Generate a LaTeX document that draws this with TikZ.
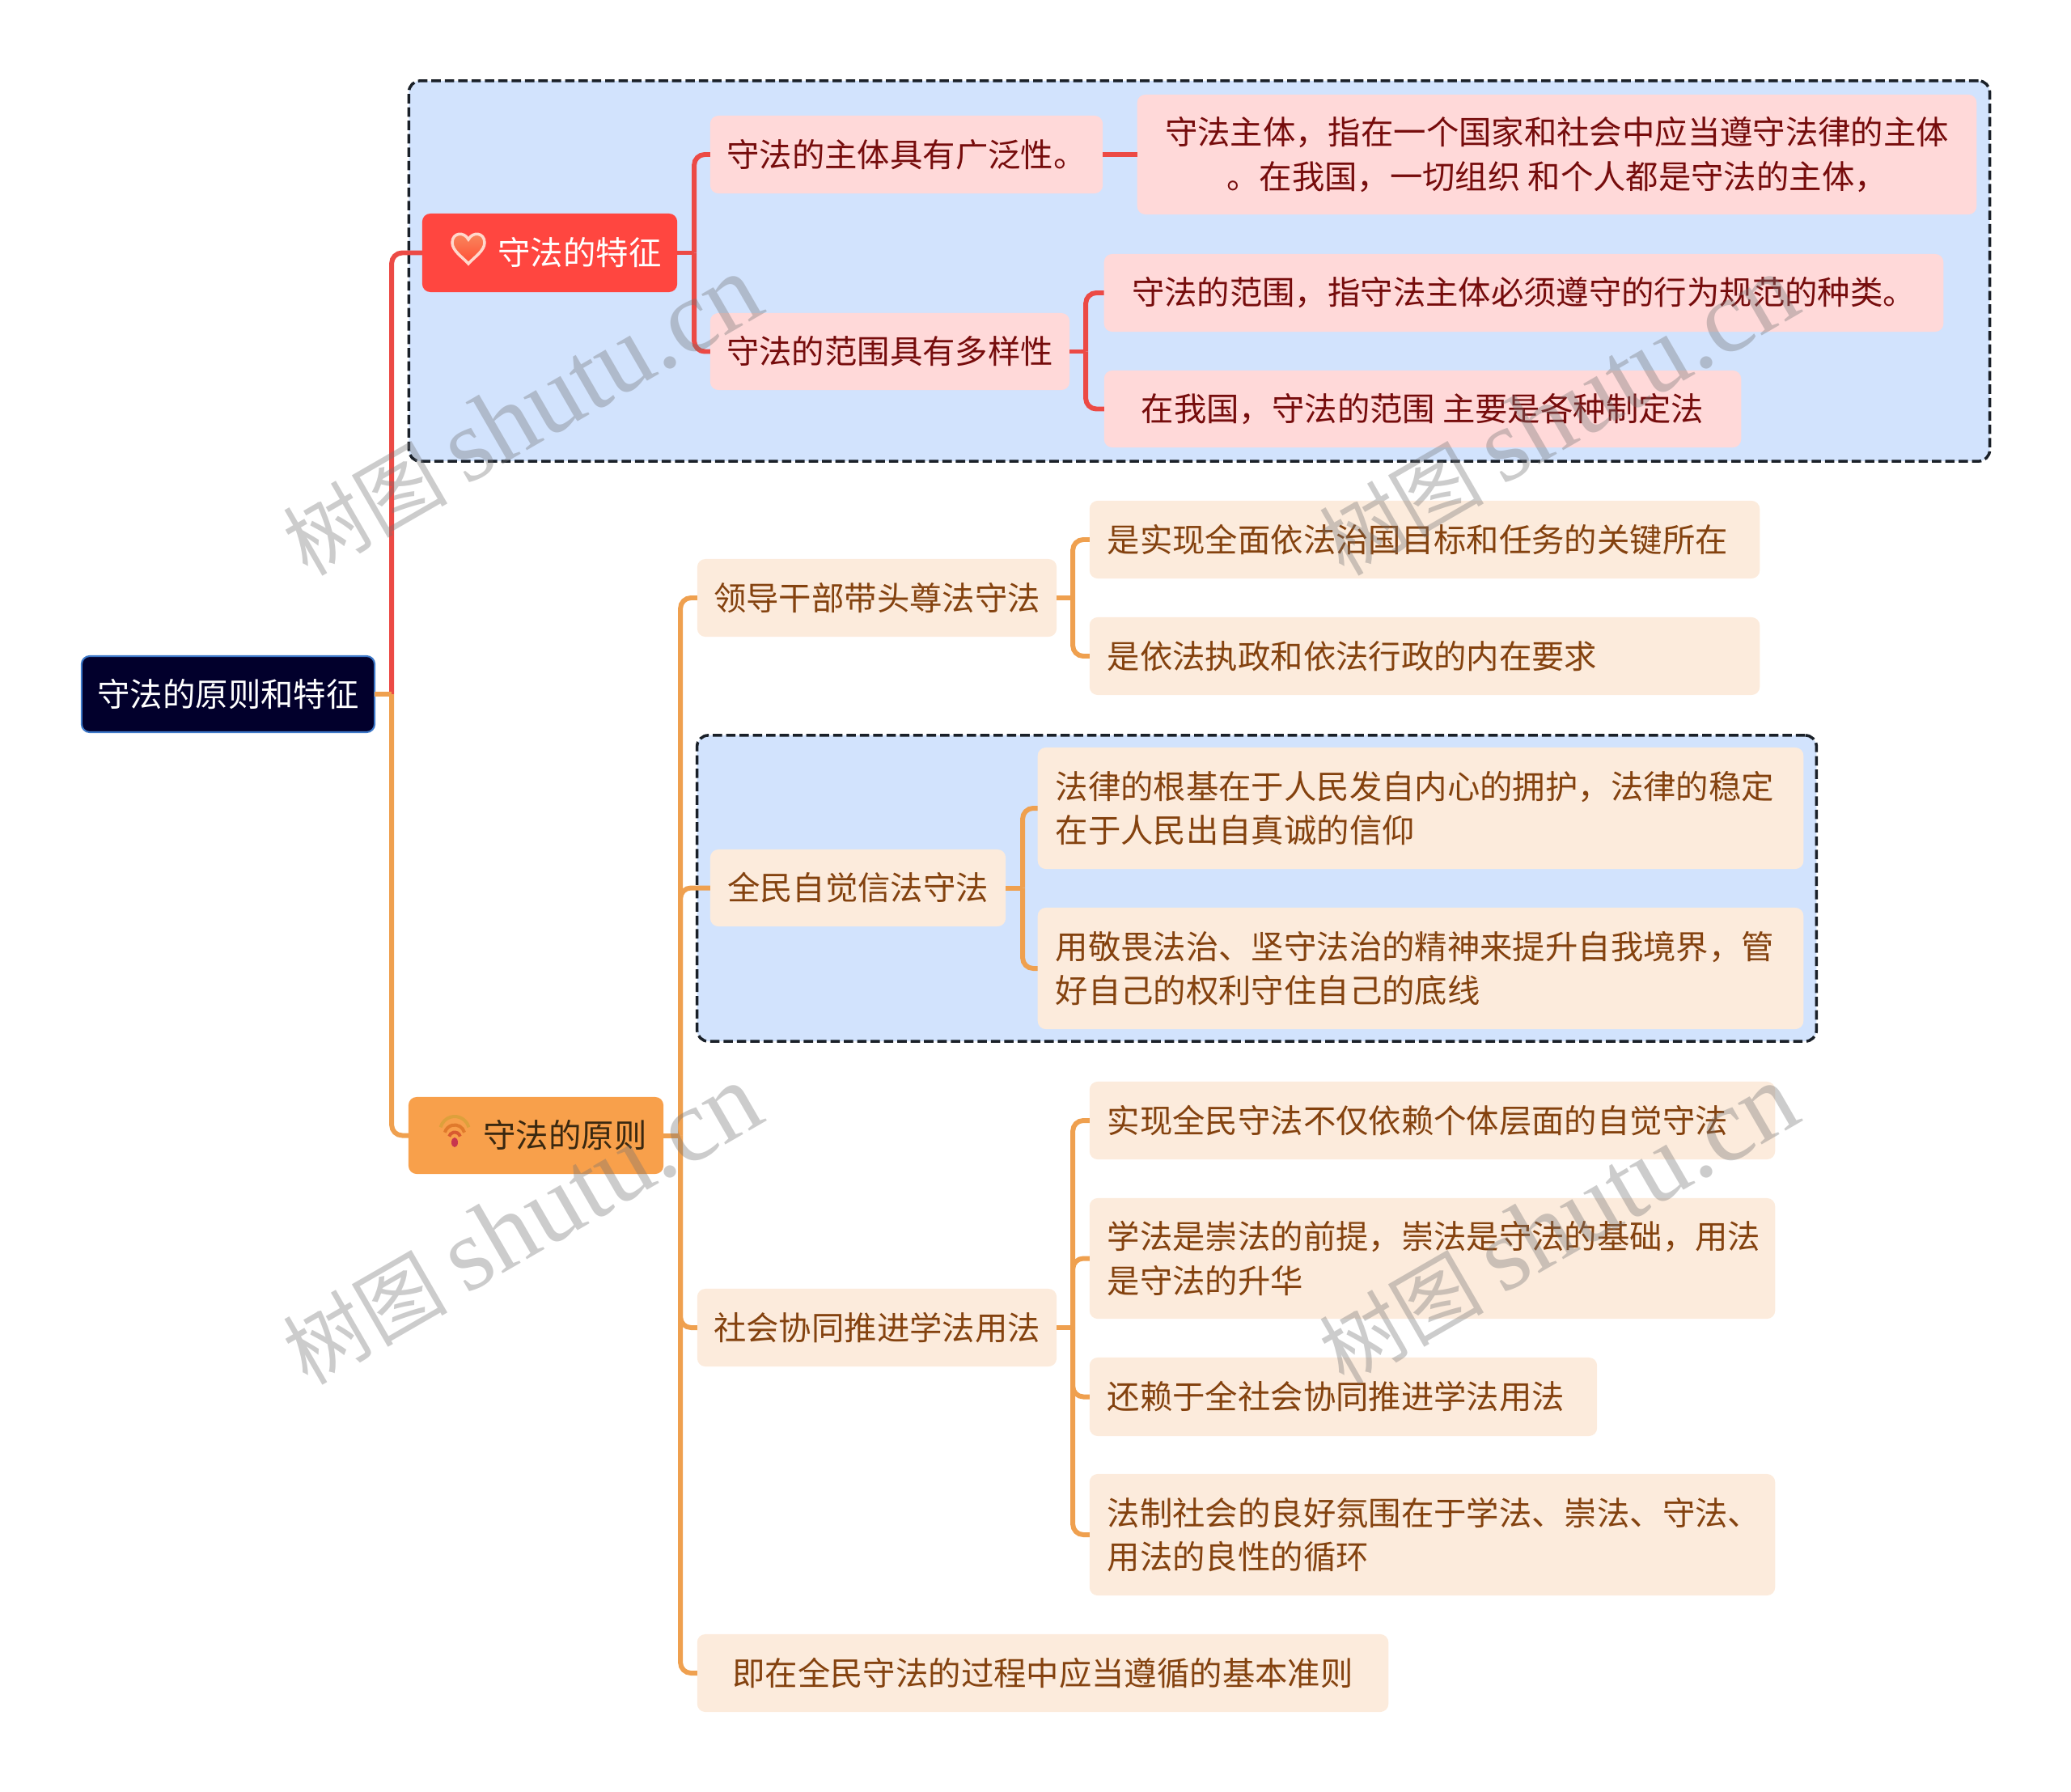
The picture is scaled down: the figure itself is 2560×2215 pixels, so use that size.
\documentclass[tikz,border=0pt]{standalone}
\usepackage{fontspec}
\setmainfont{Noto Sans CJK SC}
\newfontfamily\wmserif{Liberation Serif}
\usepackage{xcolor}
\definecolor{rootfill}{HTML}{02002C}
\definecolor{rootline}{HTML}{3D78C8}
\definecolor{redmain}{HTML}{FF4640}
\definecolor{redlink}{HTML}{EC4A45}
\definecolor{redsoft}{HTML}{FFD9D9}
\definecolor{redtext}{HTML}{760C0C}
\definecolor{orangemain}{HTML}{F8A04B}
\definecolor{orangelink}{HTML}{EFA04F}
\definecolor{orangesoft}{HTML}{FCEBDC}
\definecolor{orangetext}{HTML}{84420F}
\definecolor{orangedark}{HTML}{3A2810}
\definecolor{groupfill}{HTML}{D2E3FD}
\definecolor{grouprim}{HTML}{1A2028}
\definecolor{heartrim}{HTML}{FFD8CC}
\definecolor{hearttop}{HTML}{F88A60}
\definecolor{heartend}{HTML}{FF4E35}
\definecolor{wifia}{HTML}{DDA03C}
\definecolor{wifib}{HTML}{E07A2C}
\definecolor{wific}{HTML}{D85A30}
\definecolor{wifidot}{HTML}{C8364E}
\usetikzlibrary{positioning}

\begin{document}
\begin{tikzpicture}[
    x=0.01cm, y=-0.01cm,
    every node/.style={font=\fontsize{11.48pt}{15.4pt}\selectfont, inner sep=0pt, outer sep=0pt, rounded corners=0.1cm},
    rootnode/.style={fill=rootfill, draw=rootline, line width=0.6pt, text=white},
    redtopic/.style={fill=redmain, text=white},
    orangetopic/.style={fill=orangemain, text=orangedark},
    redleaf/.style={fill=redsoft, text=redtext},
    orangeleaf/.style={fill=orangesoft, text=orangetext, align=left},
    groupbox/.style={fill=groupfill, draw=grouprim, line width=1pt, dash pattern=on 3.3pt off 1.4pt, rounded corners=0.14cm},
    redline/.style={draw=redlink, line width=1.7pt, rounded corners=0.13cm},
    orangeline/.style={draw=orangelink, line width=1.7pt, rounded corners=0.13cm},
    watermark/.style={text=black!55, opacity=0.36, rotate=30, font=\fontsize{29pt}{36pt}\selectfont}
  ]
  \useasboundingbox (0,0) rectangle (2560,2215);

  \node[groupbox, minimum width=19.53cm, minimum height=4.70cm] (groupa) at (1482.5,335) {};
  \node[groupbox, minimum width=13.83cm, minimum height=3.78cm] (groupb) at (1553.5,1098) {};

  \node[rootnode, minimum width=3.62cm, minimum height=0.94cm] (root) at (282,858) {守法的原则和特征};

  \node[redtopic, minimum width=3.15cm, minimum height=0.97cm] (feature) at (679.5,312.5) {\hspace{0.74cm}\raisebox{-0.46pt}{守法的特征}};
  \node[redleaf, minimum width=4.85cm, minimum height=0.96cm] (subject) at (1120.5,191) {守法的主体具有广泛性。};
  \node[redleaf, minimum width=10.37cm, minimum height=1.48cm, align=center] (subjectnote) at (1924.5,191) {守法主体，指在一个国家和社会中应当遵守法律的主体\\。在我国，一切组织 和个人都是守法的主体，};
  \node[redleaf, minimum width=4.44cm, minimum height=0.95cm] (scope) at (1100,434.5) {守法的范围具有多样性};
  \node[redleaf, minimum width=10.37cm, minimum height=0.96cm] (scopea) at (1883.5,362) {守法的范围，指守法主体必须遵守的行为规范的种类。};
  \node[redleaf, minimum width=7.87cm, minimum height=0.95cm] (scopeb) at (1758.5,505.5) {在我国，守法的范围 主要是各种制定法};

  \node[orangetopic, minimum width=3.15cm, minimum height=0.95cm] (principle) at (662.5,1403.5) {\hspace{0.72cm}\raisebox{-0.46pt}{守法的原则}};

  \node[orangeleaf, minimum width=4.44cm, minimum height=0.96cm] (lead) at (1084,739) {领导干部带头尊法守法};
  \node[orangeleaf, minimum width=8.28cm, minimum height=0.96cm, text width=7.84cm] (leada) at (1761,667) {是实现全面依法治国目标和任务的关键所在};
  \node[orangeleaf, minimum width=8.28cm, minimum height=0.96cm, text width=7.84cm] (leadb) at (1761,811) {是依法执政和依法行政的内在要求};

  \node[orangeleaf, minimum width=3.65cm, minimum height=0.95cm] (belief) at (1060.5,1097.5) {全民自觉信法守法};
  \node[orangeleaf, minimum width=9.46cm, minimum height=1.50cm, text width=9.02cm] (beliefa) at (1756,999) {法律的根基在于人民发自内心的拥护，法律的稳定\\在于人民出自真诚的信仰};
  \node[orangeleaf, minimum width=9.46cm, minimum height=1.50cm, text width=9.02cm] (beliefb) at (1756,1197) {用敬畏法治、坚守法治的精神来提升自我境界，管\\好自己的权利守住自己的底线};

  \node[orangeleaf, minimum width=4.44cm, minimum height=0.96cm] (social) at (1084,1641) {社会协同推进学法用法};
  \node[orangeleaf, minimum width=8.47cm, minimum height=0.96cm, text width=8.03cm] (sociala) at (1770.5,1385) {实现全民守法不仅依赖个体层面的自觉守法};
  \node[orangeleaf, minimum width=8.47cm, minimum height=1.49cm, text width=8.03cm] (socialb) at (1770.5,1555.5) {学法是崇法的前提，崇法是守法的基础，用法\\是守法的升华};
  \node[orangeleaf, minimum width=6.27cm, minimum height=0.97cm, text width=5.83cm] (socialc) at (1660.5,1726.5) {还赖于全社会协同推进学法用法};
  \node[orangeleaf, minimum width=8.47cm, minimum height=1.50cm, text width=8.03cm] (sociald) at (1770.5,1897) {法制社会的良好氛围在于学法、崇法、守法、\\用法的良性的循环};
  \node[orangeleaf, minimum width=8.54cm, minimum height=0.96cm] (rule) at (1289,2068) {即在全民守法的过程中应当遵循的基本准则};

  \coordinate (roottrunk) at ([xshift=0.21cm]root.east);
  \draw[redline] (roottrunk) |- (feature.west);
  \draw[orangeline] (roottrunk) |- (principle.west);
  \draw[orangeline] (root.east) -- (roottrunk);

  \foreach \src/\dst/\gap in {feature/subject/21, feature/scope/21, scope/scopea/20, scope/scopeb/20} {
    \draw[redline] (\src.east) -- ++(\gap,0) coordinate (trunk);
    \draw[redline] (trunk) |- (\dst.west);
  }
  \draw[redline] (subject.east) -- (subjectnote.west);

  \foreach \src/\dst/\gap in {principle/lead/21, principle/belief/21, principle/social/21, principle/rule/21, lead/leada/20, lead/leadb/20, belief/beliefa/21, belief/beliefb/21, social/sociala/20, social/socialb/20, social/socialc/20, social/sociald/20} {
    \draw[orangeline] (\src.east) -- ++(\gap,0) coordinate (trunk);
    \draw[orangeline] (trunk) |- (\dst.west);
  }

  \begin{scope}[shift={(579,308)}, y=0.01cm]
    \shade[top color=hearttop, bottom color=heartend, draw=heartrim, line width=1pt]
      (0,-18) .. controls (-7,-10) and (-20,-2) .. (-20,8) .. controls (-20,21) and (-5,22) .. (0,12)
      .. controls (5,22) and (20,21) .. (20,8) .. controls (20,-2) and (7,-10) .. (0,-18) -- cycle;
  \end{scope}

  \begin{scope}[shift={(562,1412)}, y=0.01cm]
    \foreach \r/\cy/\c in {18/14/wifia, 12.5/9/wifib, 7/5.5/wific} {
      \draw[draw=\c, line width=1.15pt] (0,\cy) ++(15:\r) arc[start angle=15, end angle=165, radius=\r];
    }
    \fill[wifidot] (0,0) ellipse[x radius=4, y radius=6];
  \end{scope}

  \foreach \wx/\wy/\wn in {645/514/wma, 1926/514/wmb, 645/1514/wmc, 1926/1514/wmd} {
    \node[watermark] (\wn) at (\wx,\wy) {树图 {\wmserif\fontsize{36.5pt}{36pt}\selectfont shutu.cn}};
  }
\end{tikzpicture}
\end{document}
